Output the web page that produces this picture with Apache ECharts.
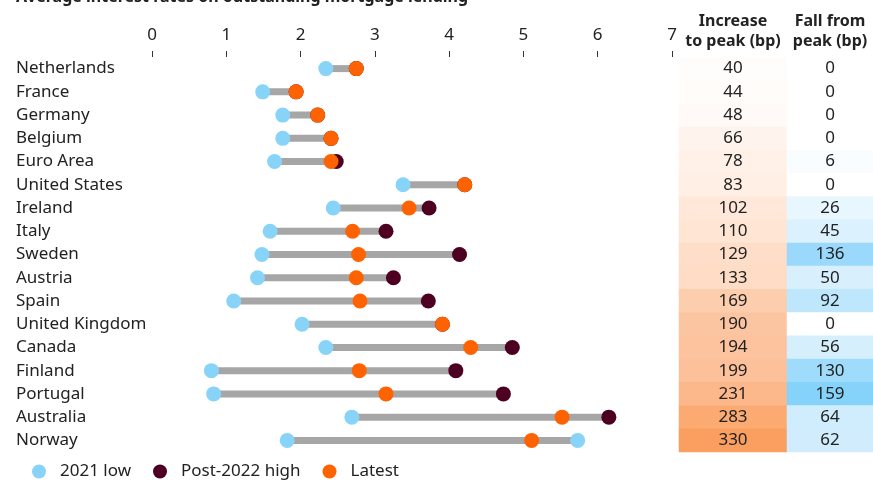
<!DOCTYPE html>
<html>
<head>
<meta charset="utf-8">
<script src="https://cdn.jsdelivr.net/npm/echarts@6/dist/echarts.min.js"></script>
<style>
  html, body { margin: 0; padding: 0; background: #fff; }
  #chart { width: 873px; height: 480px; }
</style>
</head>
<body>
<div id="chart"></div>
<script>
    // values (rates in %)
    const countries = ['Netherlands', 'France', 'Germany', 'Belgium', 'Euro Area', 'United States', 'Ireland', 'Italy', 'Sweden', 'Austria', 'Spain', 'United Kingdom', 'Canada', 'Finland', 'Portugal', 'Australia', 'Norway'];
    const low2021 = [2.34, 1.49, 1.76, 1.76, 1.65, 3.38, 2.44, 1.59, 1.48, 1.42, 1.10, 2.02, 2.34, 0.80, 0.83, 2.69, 1.82];
    const highPost2022 = [2.75, 1.94, 2.23, 2.41, 2.48, 4.21, 3.73, 3.15, 4.14, 3.25, 3.72, 3.91, 4.85, 4.09, 4.73, 6.15, 5.73];
    const latest = [2.75, 1.94, 2.23, 2.41, 2.41, 4.21, 3.46, 2.70, 2.78, 2.75, 2.80, 3.91, 4.29, 2.79, 3.15, 5.52, 5.11];
    const increaseBp = [40, 44, 48, 66, 78, 83, 102, 110, 129, 133, 169, 190, 194, 199, 231, 283, 330];
    const fallBp = [0, 0, 0, 0, 6, 0, 26, 45, 136, 50, 92, 0, 56, 130, 159, 64, 62];
    const xTicks = [0, 1, 2, 3, 4, 5, 6, 7];

    const FONT = 'Noto Sans';
    const BLUE = '#88d4f9', MAROON = '#4d0021', ORANGE = '#ff6200';

    let rangeData = [];
    for (let i = 0; i < countries.length; i++) {
        rangeData.push([low2021[i], Math.max(low2021[i], highPost2022[i], latest[i]), i]);
    }
    // in the source the Norway high dot is drawn in light blue
    const highData = highPost2022.map((v, i) => countries[i] === 'Norway'
        ? { value: [v, countries[i]], itemStyle: { color: BLUE } }
        : [v, countries[i]]);

    const catAxis = (gridIndex, show) => ({
        type: 'category',
        gridIndex: gridIndex,
        data: countries,
        inverse: true,
        axisLine: { show: false },
        axisTick: { show: false },
        axisLabel: {
            show: show,
            align: 'left',
            margin: 136,
            color: '#222',
            fontFamily: FONT,
            fontSize: 17
        }
    });
    const headAxis = (gridIndex, text) => ({
        type: 'category',
        gridIndex: gridIndex,
        position: 'top',
        data: [text],
        axisLine: { show: false },
        axisTick: { show: false },
        axisLabel: {
            margin: 6,
            color: '#222',
            fontFamily: FONT,
            fontWeight: 'bold',
            fontSize: 16,
            lineHeight: 20
        }
    });

    const option = {
        animation: false,
        backgroundColor: '#fff',
        graphic: [{
            type: 'text',
            left: 16,
            top: -11,
            style: {
                text: 'Average interest rates on outstanding mortgage lending',
                fill: '#222',
                font: 'bold 16px "Noto Sans"'
            }
        }],
        legend: {
            left: 27,
            top: 458,
            itemWidth: 32,
            itemHeight: 14,
            itemGap: 22,
            icon: 'circle',
            textStyle: { color: '#222', fontFamily: FONT, fontSize: 17 },
            data: ['2021 low', 'Post-2022 high', 'Latest']
        },
        grid: [
            { left: 152, width: 520, top: 57, height: 395 },
            { left: 679, width: 108, top: 57, height: 395 },
            { left: 787, width: 86, top: 57, height: 395 }
        ],
        xAxis: [
            {
                type: 'value',
                gridIndex: 0,
                position: 'top',
                min: 0,
                max: 7,
                interval: 1,
                axisLine: { show: false },
                axisTick: { show: true, length: 6, lineStyle: { color: '#333', width: 1 } },
                splitLine: { show: false },
                axisLabel: {
                    margin: 13,
                    color: '#222',
                    fontFamily: FONT,
                    fontSize: 17,
                    formatter: v => xTicks.indexOf(v) >= 0 ? String(v) : ''
                }
            },
            headAxis(1, 'Increase\nto peak (bp)'),
            headAxis(2, 'Fall from\npeak (bp)')
        ],
        yAxis: [catAxis(0, true), catAxis(1, false), catAxis(2, false)],
        visualMap: [
            {
                show: false,
                seriesIndex: 4,
                min: 40,
                max: 330,
                inRange: { color: ['#fffdfb', '#ffeadc', '#fdd3b6', '#fcbb92', '#fbad76', '#fa9f5f'] }
            },
            {
                show: false,
                seriesIndex: 5,
                min: 0,
                max: 159,
                inRange: { color: ['#ffffff', '#e3f4fe', '#d0edfd', '#bce5fc', '#a2dcfb', '#85d2fa'] }
            }
        ],
        series: [
            {
                type: 'custom',
                xAxisIndex: 0,
                yAxisIndex: 0,
                encode: { x: [0, 1], y: 2 },
                silent: true,
                renderItem: function (params, api) {
                    const a = api.coord([api.value(0), api.value(2)]);
                    const b = api.coord([api.value(1), api.value(2)]);
                    return {
                        type: 'line',
                        shape: { x1: a[0], y1: a[1], x2: b[0], y2: b[1] },
                        style: { stroke: '#a6a6a6', lineWidth: 7 }
                    };
                },
                data: rangeData
            },
            {
                name: '2021 low',
                type: 'scatter',
                symbolSize: 15,
                itemStyle: { color: BLUE, opacity: 1 },
                data: low2021.map((v, i) => [v, countries[i]])
            },
            {
                name: 'Post-2022 high',
                type: 'scatter',
                symbolSize: 15,
                itemStyle: { color: MAROON, opacity: 1 },
                data: highData
            },
            {
                name: 'Latest',
                type: 'scatter',
                symbolSize: 15,
                itemStyle: { color: ORANGE, opacity: 1 },
                data: latest.map((v, i) => [v, countries[i]])
            },
            {
                type: 'heatmap',
                xAxisIndex: 1,
                yAxisIndex: 1,
                label: { show: true, color: '#222', fontFamily: FONT, fontSize: 17 },
                data: increaseBp.map((v, i) => [0, i, v])
            },
            {
                type: 'heatmap',
                xAxisIndex: 2,
                yAxisIndex: 2,
                label: { show: true, color: '#222', fontFamily: FONT, fontSize: 17 },
                data: fallBp.map((v, i) => [0, i, v])
            }
        ]
    };

    let myChart = echarts.init(document.getElementById('chart'));
    myChart.setOption(option);
</script>
</body>
</html>
